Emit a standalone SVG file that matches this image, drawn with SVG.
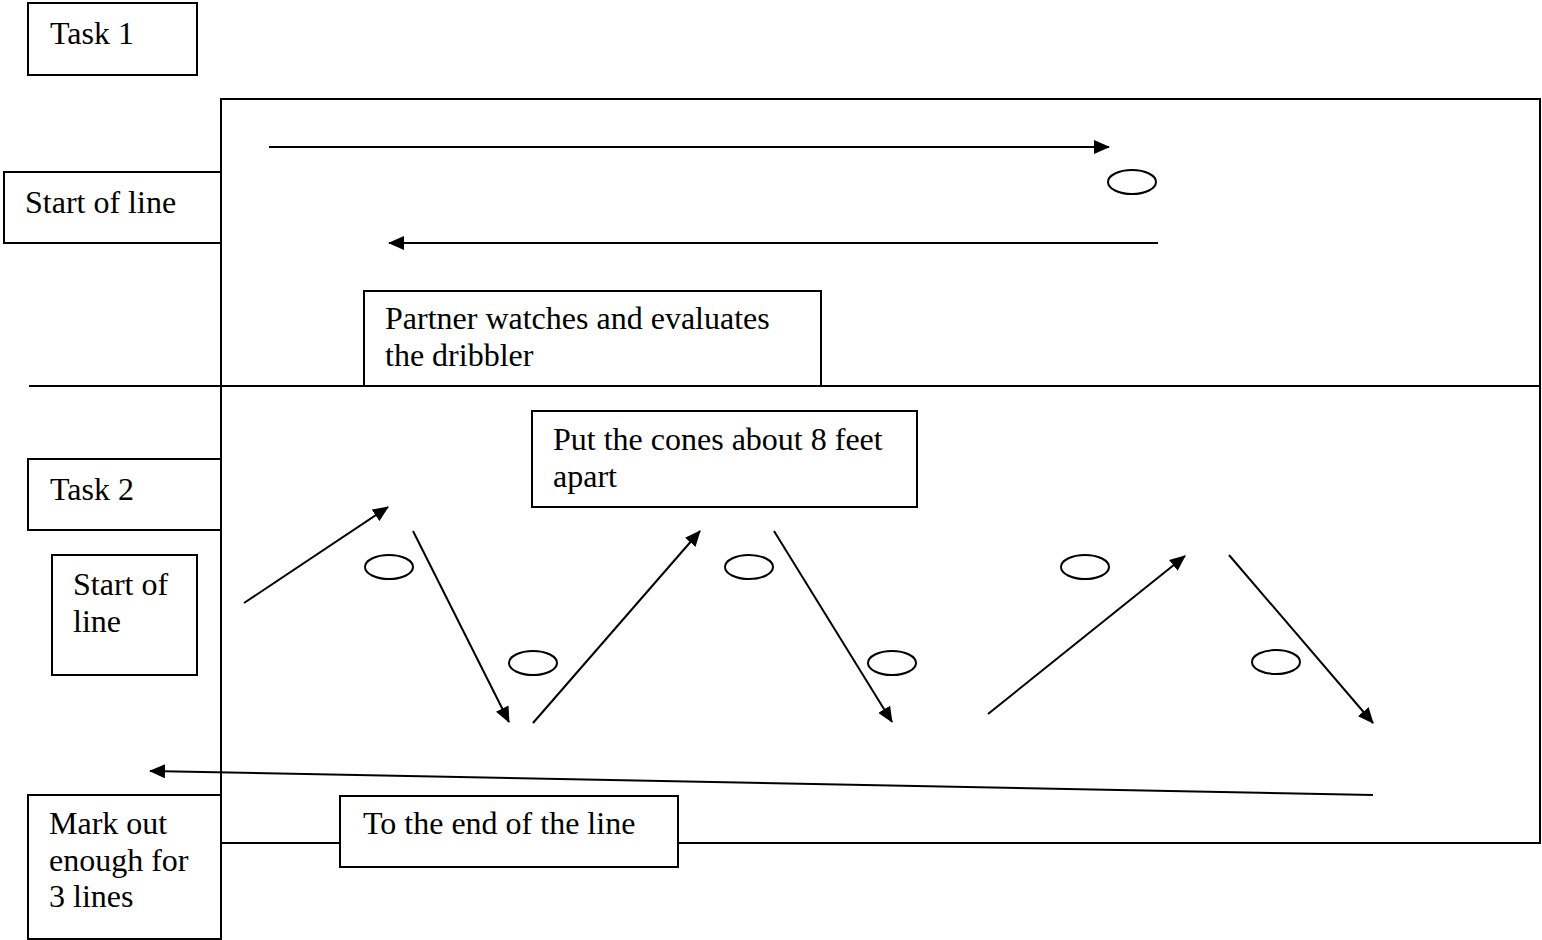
<svg xmlns="http://www.w3.org/2000/svg" width="1542" height="940" viewBox="0 0 1542 940">
  <style>
    .box { fill: #ffffff; stroke: #000000; stroke-width: 2; }
    .frame { fill: none; stroke: #000000; stroke-width: 2; }
    .cone { fill: #ffffff; stroke: #000000; stroke-width: 2; }
    .arrow { fill: none; stroke: #000000; stroke-width: 2; marker-end: url(#head); }
    .lbl { font-family: "Liberation Serif", "Times New Roman", serif; font-size: 32px; fill: #000000; }
  </style>
  <defs>
    <marker id="head" viewBox="0 0 16 14" refX="15" refY="7" markerWidth="16" markerHeight="14" markerUnits="userSpaceOnUse" orient="auto">
      <path d="M0,0 L16,7 L0,14 z" fill="#000000"/>
    </marker>
  </defs>

  <rect width="1542" height="940" fill="#ffffff"/>

  <!-- playing area outline and divider between the two tasks -->
  <g id="field">
    <path class="frame" d="M221,795 V99 H1540 V843 H221"/>
    <path class="frame" d="M29,386 H1540"/>
  </g>

  <!-- cones -->
  <g id="cones">
    <ellipse class="cone" cx="1132" cy="182" rx="24" ry="12"/>
    <ellipse class="cone" cx="389" cy="567" rx="24" ry="12"/>
    <ellipse class="cone" cx="533" cy="663" rx="24" ry="12"/>
    <ellipse class="cone" cx="749" cy="567" rx="24" ry="12"/>
    <ellipse class="cone" cx="892" cy="663" rx="24" ry="12"/>
    <ellipse class="cone" cx="1085" cy="567" rx="24" ry="12"/>
    <ellipse class="cone" cx="1276" cy="662" rx="24" ry="12"/>
  </g>

  <!-- dribbling paths -->
  <g id="connectors">
    <line class="arrow" x1="269" y1="147" x2="1109" y2="147"/>
    <line class="arrow" x1="1158" y1="243" x2="389" y2="243"/>
    <line class="arrow" x1="244" y1="603" x2="388" y2="507"/>
    <line class="arrow" x1="413" y1="531" x2="509" y2="722"/>
    <line class="arrow" x1="533" y1="723" x2="700" y2="531"/>
    <line class="arrow" x1="774" y1="531" x2="892" y2="722"/>
    <line class="arrow" x1="988" y1="714" x2="1185" y2="556"/>
    <line class="arrow" x1="1229" y1="555" x2="1373" y2="723"/>
    <line class="arrow" x1="1373" y1="795" x2="150" y2="771"/>
  </g>

  <g id="task1">
    <rect class="box" x="28" y="3" width="169" height="72"/>
    <text class="lbl" x="50" y="44">Task 1</text>
  </g>

  <g id="start1">
    <rect class="box" x="4" y="172" width="217" height="71"/>
    <text class="lbl" x="25" y="213">Start of line</text>
  </g>

  <g id="partner">
    <rect class="box" x="364" y="291" width="457" height="95"/>
    <text class="lbl" x="385" y="329">Partner watches and evaluates</text>
    <text class="lbl" x="385" y="366">the dribbler</text>
  </g>

  <g id="task2">
    <rect class="box" x="28" y="459" width="193" height="71"/>
    <text class="lbl" x="50" y="500">Task 2</text>
  </g>

  <g id="cones-note">
    <rect class="box" x="532" y="411" width="385" height="96"/>
    <text class="lbl" x="553" y="450">Put the cones about 8 feet</text>
    <text class="lbl" x="553" y="487">apart</text>
  </g>

  <g id="start2">
    <rect class="box" x="52" y="555" width="145" height="120"/>
    <text class="lbl" x="73" y="595">Start of</text>
    <text class="lbl" x="73" y="632">line</text>
  </g>

  <g id="markout">
    <rect class="box" x="28" y="795" width="193" height="144"/>
    <text class="lbl" x="49" y="834">Mark out</text>
    <text class="lbl" x="49" y="871">enough for</text>
    <text class="lbl" x="49" y="907">3 lines</text>
  </g>

  <g id="end-note">
    <rect class="box" x="340" y="796" width="338" height="71"/>
    <text class="lbl" x="363" y="834">To the end of the line</text>
  </g>
</svg>
